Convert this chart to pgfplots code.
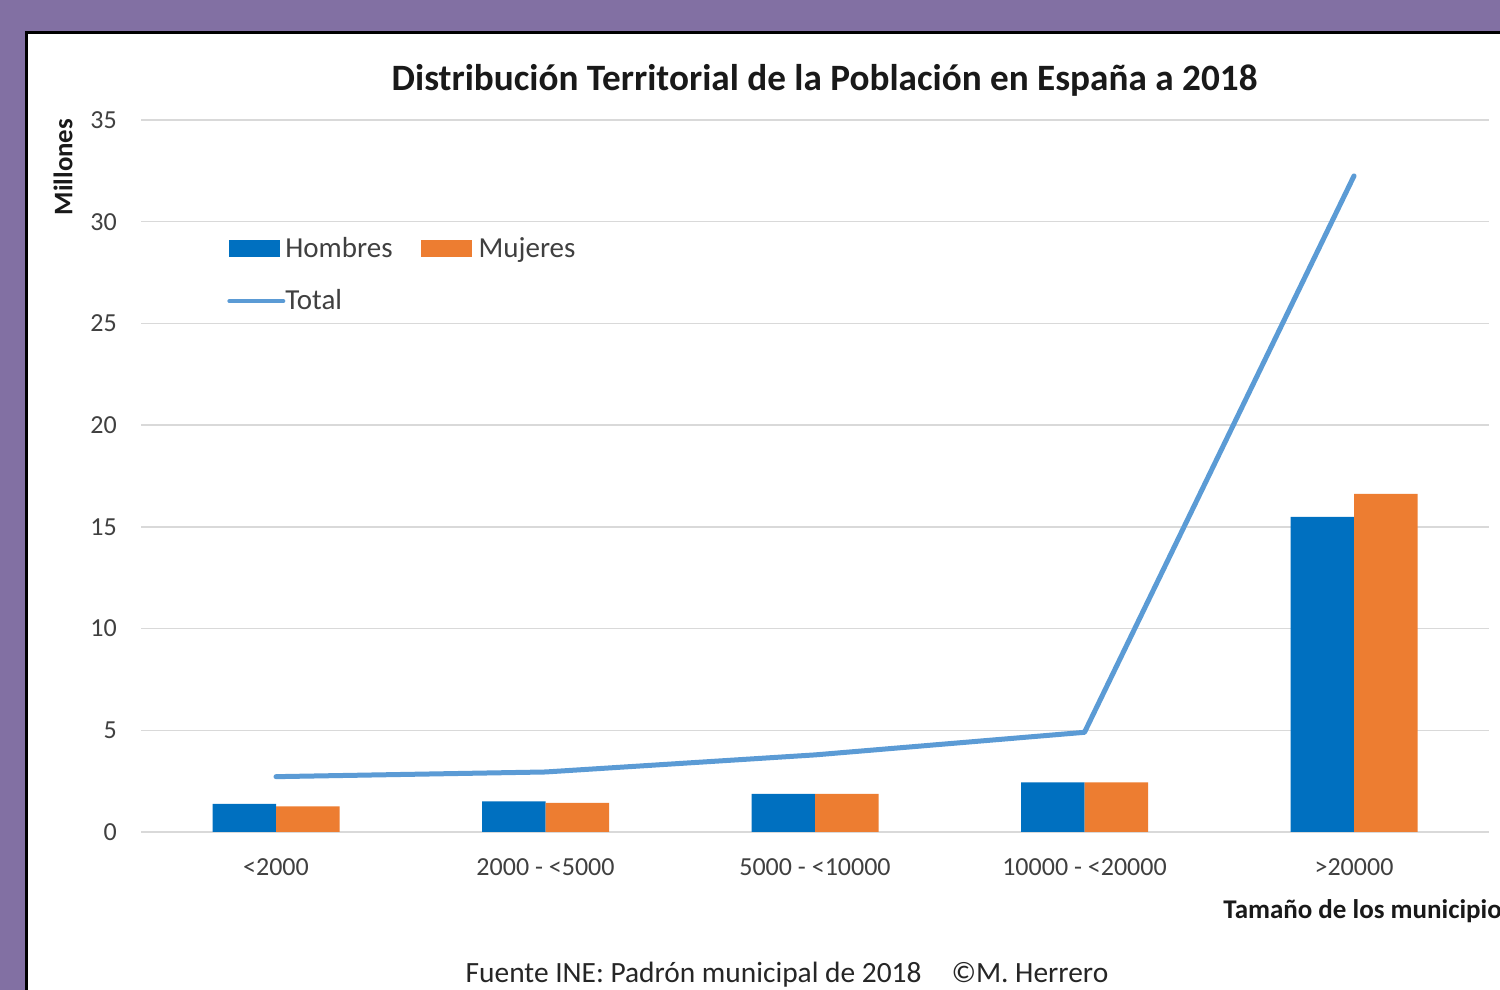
\documentclass[border=0pt]{standalone}
\usepackage{pgfplots}
\pgfplotsset{compat=1.18}
\usepackage{fontspec}
\setmainfont{Carlito}
\definecolor{bg}{RGB}{130,112,163}
\definecolor{hom}{HTML}{0070C0}
\definecolor{muj}{HTML}{ED7D31}
\definecolor{tot}{HTML}{5B9BD5}
\definecolor{gridc}{HTML}{D9D9D9}
\definecolor{txt}{HTML}{404040}
\begin{document}
\begin{tikzpicture}
\useasboundingbox (0,0) rectangle (750pt,495pt);
\clip (0,0) rectangle (750pt,495pt);
\fill[bg] (0,0) rectangle (750pt,495pt);
\filldraw[fill=white, draw=black, line width=1.5pt] (13.25pt,-10pt) rectangle (770pt,478.75pt);
\begin{axis}[
  at={(70.625pt,79pt)}, anchor=south west, scale only axis,
  width=673.75pt, height=356pt,
  xmin=-0.5, xmax=4.5, ymin=0, ymax=35,
  xtick={0,1,2,3,4},
  xticklabels={{<2000},{2000 - <5000},{5000 - <10000},{10000 - <20000},{>20000}},
  ytick={0,5,...,35},
  ymajorgrids, grid style={gridc, line width=0.75pt},
  axis line style={draw=none},
  major tick length=0pt,
  tick label style={font=\fontsize{13}{15}\selectfont, text=txt, inner sep=0pt},
  /pgf/number format/assume math mode=true,
  yticklabel style={anchor=east, xshift=-12pt},
  xticklabel style={anchor=base, yshift=-22pt},
  legend columns=2,
  legend style={at={(rel axis cs:0.0636,0.8357)}, anchor=north west, draw=none, fill=none,
    inner sep=0pt, font=\fontsize{14.5}{17}\selectfont, text=txt, row sep=14.5pt,
    cells={anchor=west}, nodes={inner sep=0pt},
    /tikz/every odd column/.append style={column sep=0pt},
    /tikz/every even column/.append style={column sep=14pt}},
]
\addplot[ybar, bar width=31.75pt, bar shift=-15.875pt, fill=hom, draw=none,
  legend image code/.code={\fill[hom] (0pt,-4.25pt) rectangle (25.5pt,4.25pt);}]
  coordinates {(0,1.38) (1,1.51) (2,1.87) (3,2.44) (4,15.49)};
\addlegendentry{Hombres}
\addplot[ybar, bar width=31.75pt, bar shift=15.875pt, fill=muj, draw=none,
  legend image code/.code={\fill[muj] (0pt,-4.25pt) rectangle (25.5pt,4.25pt); \path (29pt,0pt);}]
  coordinates {(0,1.26) (1,1.43) (2,1.87) (3,2.44) (4,16.62)};
\addlegendentry{Mujeres}
\addplot[tot, line width=2.5pt, line join=round, line cap=round, mark=none,
  legend image code/.code={\draw[tot, line width=2pt, line cap=round] (0pt,0pt) -- (27pt,0pt);}]
  coordinates {(0,2.72) (1,2.95) (2,3.79) (3,4.90) (4,32.25)};
\addlegendentry{Total}
\end{axis}
\node[font=\fontsize{18.6}{22}\selectfont\bfseries, text=black!90, inner sep=0pt] at (412.25pt,455pt) {Distribución Territorial de la Población en España a 2018};
\node[rotate=90, font=\fontsize{13.4}{15}\selectfont\bfseries, text=black!90, inner sep=0pt] at (31.5pt,411.5pt) {Millones};
\node[anchor=west, font=\fontsize{13.5}{15}\selectfont\bfseries, text=black!90, inner sep=0pt] at (611.5pt,39.5pt) {Tamaño de los municipios};
\node[anchor=base, font=\fontsize{14.7}{16}\selectfont, text=black!85, inner sep=0pt] at (393.5pt,3.5pt) {Fuente INE: Padrón municipal de 2018\hspace{15pt}©M. Herrero};
\end{tikzpicture}
\end{document}
